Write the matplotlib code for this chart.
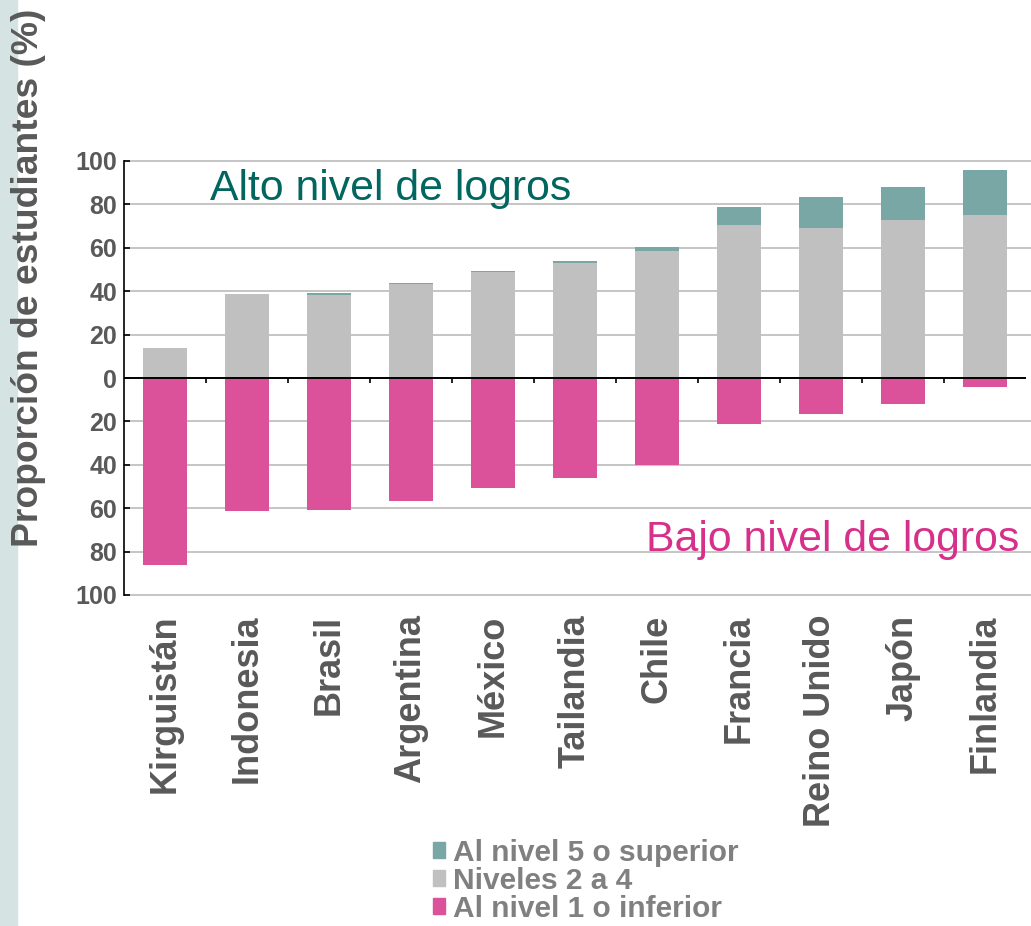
import matplotlib
matplotlib.use('Agg')
import matplotlib.pyplot as plt
from matplotlib.patches import Patch, Rectangle
import numpy as np

plt.rcParams['font.family'] = ['Liberation Sans', 'DejaVu Sans']

# ── Data ──────────────────────────────────────────────────────────────────────
paises   = ['Kirguistán', 'Indonesia', 'Brasil', 'Argentina', 'México', 'Tailandia',
            'Chile', 'Francia', 'Reino Unido', 'Japón', 'Finlandia']
nivel_2a4 = [13.6, 38.6, 38.1, 43.2, 48.8, 52.9, 58.6, 70.5, 69.1, 72.8, 75.1]
nivel_5   = [0.0, 0.0, 0.9, 0.4, 0.4, 0.9, 1.6, 8.3, 14.3, 15.2, 20.7]
nivel_1   = [86.4, 61.4, 61.0, 56.5, 50.8, 46.2, 39.9, 21.3, 16.4, 12.2, 4.2]
yticks    = [-100, -80, -60, -40, -20, 0, 20, 40, 60, 80, 100]

C_TEAL = '#78a7a6'
C_GRAY = '#c0c0c0'
C_PINK = '#db519a'
C_TXT  = '#595959'

# ── Figure ────────────────────────────────────────────────────────────────────
fig = plt.figure(figsize=(10.31, 9.26), dpi=100)
fig.patches.append(Rectangle((0, 0), 17 / 1031, 1, transform=fig.transFigure,
                             color='#d6e3e3', zorder=0))

ax = fig.add_axes([124 / 1031, 1 - 595 / 926, (1026 - 124) / 1031, (595 - 161) / 926])
x = np.arange(len(paises))
w = 0.54

ax.bar(x, nivel_2a4, width=w, color=C_GRAY, zorder=3)
ax.bar(x, nivel_5, width=w, bottom=nivel_2a4, color=C_TEAL, zorder=3)
ax.bar(x, [-v for v in nivel_1], width=w, color=C_PINK, zorder=3)

ax.set_xlim(-0.5, len(paises) - 0.5)
ax.set_ylim(-100, 100)
ax.set_yticks(yticks)
ax.set_yticklabels([str(abs(t)) for t in yticks], fontsize=18, fontweight='bold', color=C_TXT)
ax.tick_params(axis='y', direction='in', length=4, width=1.2, pad=5)

# gridlines run to the right edge of the figure
for t in yticks:
    if t != 0:
        ax.axhline(t, color='#c0c0c0', lw=1.3, zorder=1, clip_on=False, xmax=1.006)

ax.axhline(0, color='black', lw=1.4, zorder=4)
ax.vlines(x[:-1] + 0.5, -2.3, 0, color='black', lw=1.2, zorder=4)

ax.set_xticks(x)
ax.set_xticklabels(paises, rotation=90, fontsize=26, fontweight='bold', color=C_TXT)
ax.tick_params(axis='x', length=0, pad=14)

for s in ['top', 'right', 'bottom']:
    ax.spines[s].set_visible(False)
ax.spines['left'].set_linewidth(1.2)

ax.text(0.55, 87, 'Alto nivel de logros', fontsize=30.8, color='#00665f',
        va='center', ha='left')
ax.text(0.993, 0.126, 'Bajo nivel de logros', transform=ax.transAxes, fontsize=30.8,
        color='#d6308a', va='center', ha='right')

fig.text(29 / 1031, 1 - 278 / 926, 'Proporción de estudiantes (%)', rotation=90,
         fontsize=26.8, fontweight='bold', color=C_TXT, ha='center', va='center')

handles = [Patch(color=C_TEAL), Patch(color=C_GRAY), Patch(color=C_PINK)]
labels = ['Al nivel 5 o superior', 'Niveles 2 a 4', 'Al nivel 1 o inferior']
fig.legend(handles, labels, loc='lower left', bbox_to_anchor=(412 / 1031, -0.019),
           frameon=False, prop={'size': 21.5, 'weight': 'bold'}, labelcolor='#808080',
           handlelength=0.42, handleheight=0.42, handletextpad=0.25, labelspacing=0.0,
           borderpad=0.2)

fig.savefig('out.png', dpi=100)
